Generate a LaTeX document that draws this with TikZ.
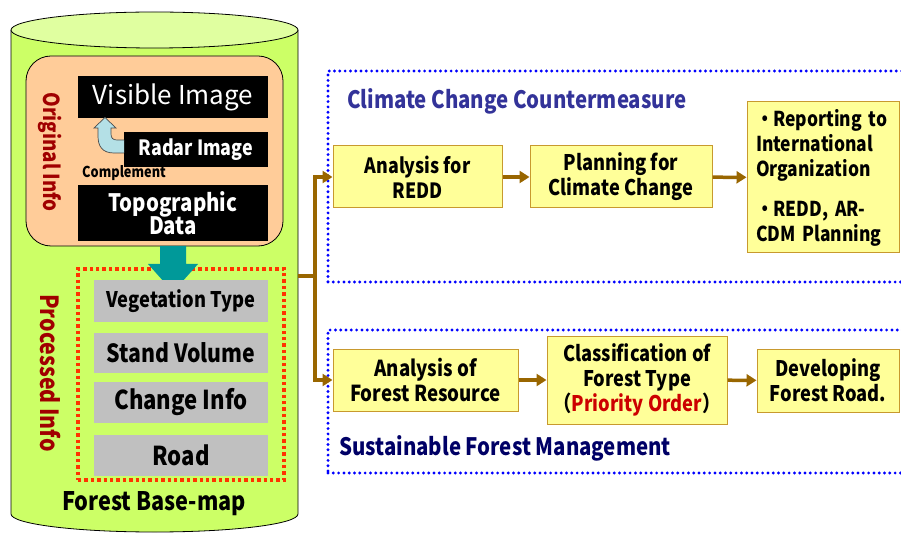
\documentclass[tikz,border=0pt]{standalone}
\usepackage{fontspec}
\usetikzlibrary{arrows.meta}
\newfontfamily\gfont[FakeStretch=0.85]{Noto Sans CJK JP}
\newfontfamily\rfont{Noto Sans CJK JP}
\definecolor{cylbody}{HTML}{CCFF66}
\definecolor{cyltop}{HTML}{E0FFA0}
\definecolor{peach}{HTML}{FFCC99}
\definecolor{brn}{HTML}{996600}
\definecolor{yfill}{HTML}{FFFF99}
\definecolor{yborder}{HTML}{C8992E}
\definecolor{dred}{HTML}{A00000}
\definecolor{gbox}{HTML}{C0C0C0}
\definecolor{teal2}{HTML}{009999}
\definecolor{arrblue}{HTML}{B4E0E6}
\definecolor{titleblue}{HTML}{333399}
\definecolor{navy2}{HTML}{000066}
\definecolor{rdot}{HTML}{FF3300}
\definecolor{pred}{HTML}{CC0000}
\tikzset{
  ybox/.style={draw=yborder, fill=yfill, line width=1pt, align=center, inner sep=0pt,
    font=\gfont\bfseries\fontsize{21.5}{25}\selectfont},
  blk/.style={fill=black, text=white, align=center, inner sep=0pt,
    font=\gfont\bfseries\fontsize{24}{22}\selectfont},
  gry/.style={fill=gbox, minimum width=174pt, inner sep=0pt,
    font=\gfont\bfseries\fontsize{25}{27}\selectfont},
  barrow/.style={draw=brn, line width=3.5pt, -{Triangle[length=10pt,width=12pt]}},
  bline/.style={draw=brn, line width=3.5pt},
  bdot/.style={draw=blue, line width=3.2pt, line cap=round, dash pattern=on 0pt off 5.3pt},
  vtext/.style={rotate=-90, text=dred, font=\gfont\bfseries\fontsize{22}{24}\selectfont}
}
\begin{document}
\begin{tikzpicture}[x=1pt,y=-1pt]
\useasboundingbox (0,0) rectangle (901,534);
\clip (0,0) rectangle (901,534);
% cylinder
\fill[cylbody] (11,30) -- (11,514) arc[start angle=180,end angle=360,x radius=143.5pt,y radius=18pt] -- (298,30) -- cycle;
\draw[line width=0.8pt] (11,30) -- (11,514) arc[start angle=180,end angle=360,x radius=143.5pt,y radius=18pt] -- (298,30);
\draw[line width=0.8pt, fill=cyltop] (154.5,30) ellipse [x radius=143.5pt, y radius=18pt];
\coordinate (cylr) at (298,276);
% original info
\node[draw, line width=0.8pt, fill=peach, rounded corners=25pt, minimum width=257pt, minimum height=190pt] (orig) at (154.5,151) {};
\node[vtext] (origt) at (50,152) {Original Info};
\node[blk, minimum width=190pt, minimum height=42pt, font=\rfont\fontsize{26}{28}\selectfont] (vis) at (173,97) {Visible Image};
\node[blk, minimum width=144pt, minimum height=35pt, font=\gfont\bfseries\fontsize{21}{22}\selectfont] (radar) at (196,149.5) {Radar Image};
\node[blk, minimum width=190pt, minimum height=56pt] (topo) at (173,213) {Topographic\\[-2pt]Data};
\node[font=\gfont\bfseries\fontsize{15}{16}\selectfont] (comp) at (124,173) {Complement};
% curved arrow
\draw[fill=arrblue, draw=black!70, line width=0.7pt] (124,153) -- (114,153) .. controls (102,153) and (98,146) .. (98,136) -- (98,128) -- (94,128) -- (105,117.5) -- (116,128) -- (111,128) -- (111,134) .. controls (111,138) and (113,140) .. (117,140) -- (124,140);
% processed info
\node[draw=rdot, line width=3.6pt, dash pattern=on 3.4pt off 3pt, minimum width=206pt, minimum height=211pt, inner sep=0pt] (proc) at (181,374.5) {};
\fill[teal2] (160,246) -- (186,246) -- (186,264) -- (198,264) -- (173,292) -- (148,264) -- (160,264) -- cycle;
\node[vtext, font=\gfont\bfseries\fontsize{25}{27}\selectfont] (proct) at (50,373) {Processed Info};
\node[gry, minimum height=42pt, font=\gfont\bfseries\fontsize{21.5}{24}\selectfont] (veg) at (181,301) {Vegetation Type};
\node[gry, minimum height=40pt] (stand) at (181,353) {Stand Volume};
\node[gry, minimum height=41pt, font=\gfont\bfseries\fontsize{26}{28}\selectfont] (chg) at (181,402.5) {Change Info};
\node[gry, minimum height=41pt, font=\gfont\bfseries\fontsize{26}{28}\selectfont] (road) at (181,455.5) {Road};
\node[font=\gfont\bfseries\fontsize{25.5}{28}\selectfont] (fbm) at (154,504) {Forest Base-map};
% dotted groups
\node[bdot, minimum width=600pt, minimum height=211pt, inner sep=0pt] (ccgroup) at (628,176.5) {};
\node[bdot, minimum width=600pt, minimum height=143pt, inner sep=0pt] (sfgroup) at (628,401.5) {};
\node[anchor=west, inner xsep=0pt, text=titleblue, font=\gfont\bfseries\fontsize{24}{26}\selectfont] (cctitle) at (347,101) {Climate Change Countermeasure};
\node[anchor=west, inner xsep=0pt, text=navy2, font=\gfont\bfseries\fontsize{24}{26}\selectfont] (sftitle) at (339,448) {Sustainable Forest Management};
% top row
\node[ybox, minimum width=169pt, minimum height=62pt, font=\gfont\bfseries\fontsize{21}{25}\selectfont] (redd) at (417.5,177) {Analysis for\\REDD};
\node[ybox, minimum width=182pt, minimum height=62pt] (plan) at (621,177) {Planning for\\Climate Change};
\node[ybox, minimum width=152pt, minimum height=151pt, align=left, text width=134pt, inner xsep=9pt, font=\gfont\bfseries\fontsize{20.5}{25}\selectfont] (rep) at (823,177.5) {・Reporting to\\International\\Organization\\[15pt]・REDD, AR-\\CDM Planning};
% bottom row
\node[ybox, minimum width=185pt, minimum height=62pt, font=\gfont\bfseries\fontsize{22}{25}\selectfont] (afr) at (425.5,380) {Analysis of\\Forest Resource};
\node[ybox, minimum width=180pt, minimum height=88pt] (cls) at (637,380) {Classification of\\Forest Type\\（\textcolor{pred}{Priority Order}）};
\node[ybox, minimum width=142pt, minimum height=63pt] (dev) at (828,380.5) {Developing\\Forest Road.};
% connectors
\coordinate (j) at (315,276);
\draw[bline] (cylr) -- (j);
\draw[barrow] (j) |- (redd.west);
\draw[barrow] (j) |- (afr.west);
\draw[barrow] (redd) -- (plan);
\draw[barrow] (plan) -- (rep);
\draw[barrow] (afr) -- (cls);
\draw[barrow] (cls) -- (dev);
\end{tikzpicture}
\end{document}
